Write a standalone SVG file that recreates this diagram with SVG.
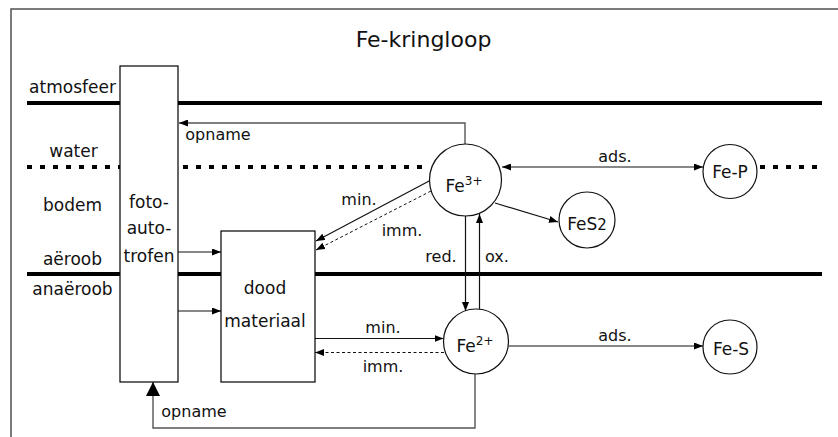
<svg xmlns="http://www.w3.org/2000/svg" width="838" height="437" viewBox="0 0 838 437">
  <style>
    text { font-family: "DejaVu Sans", "Liberation Sans", sans-serif; fill: #111; }
    .title { font-size: 22px; text-anchor: middle; }
    .zone { font-size: 17px; text-anchor: middle; }
    .lbl { font-size: 16px; text-anchor: middle; }
    .node-text { font-size: 17px; text-anchor: middle; }
    .sup { font-size: 12px; }
    .box { fill: #fff; stroke: #000; stroke-width: 1.2; }
    .circ { fill: #fff; stroke: #111; stroke-width: 1.2; }
    .solid { fill: none; stroke: #111; stroke-width: 1.2; }
    .grey { fill: none; stroke: #555; stroke-width: 1.4; }
    .dash { fill: none; stroke: #111; stroke-width: 1; stroke-dasharray: 3 2.5; }
    .bound { fill: none; stroke: #000; stroke-width: 4; }
    .dots { fill: none; stroke: #000; stroke-width: 4; stroke-dasharray: 5 8; }
  </style>
  <defs>
    <marker id="arr" markerUnits="userSpaceOnUse" markerWidth="9" markerHeight="7" refX="9" refY="3.5" orient="auto-start-reverse">
      <path d="M0,0 L9,3.5 L0,7 z" fill="#000"/>
    </marker>
    <marker id="arrBig" markerUnits="userSpaceOnUse" markerWidth="14" markerHeight="14" refX="14" refY="7" orient="auto">
      <path d="M0,0 L14,7 L0,14 z" fill="#000"/>
    </marker>
  </defs>

  <!-- frame -->
  <rect x="11" y="9" width="900" height="500" fill="none" stroke="#444" stroke-width="1.4"/>

  <!-- title -->
  <text class="title" x="423.5" y="47">Fe-kringloop</text>

  <!-- zone boundaries -->
  <g id="zones">
    <line class="bound" x1="27" y1="103" x2="822" y2="103"/>
    <line class="dots" x1="27" y1="167" x2="430" y2="167"/>
    <line class="dots" x1="760" y1="167" x2="820" y2="167"/>
    <line class="bound" x1="27" y1="274" x2="822" y2="274"/>
    <text class="zone" x="72.5" y="93">atmosfeer</text>
    <text class="zone" x="73.5" y="157">water</text>
    <text class="zone" x="72.5" y="211">bodem</text>
    <text class="zone" x="72.5" y="265">aëroob</text>
    <text class="zone" x="72.5" y="295">anaëroob</text>
  </g>

  <!-- connectors -->
  <g id="connectors">
    <path class="grey" d="M465,144 V123 H179" marker-end="url(#arr)"/>
    <text class="lbl" x="218" y="140">opname</text>

    <line class="solid" x1="178" y1="252" x2="221" y2="252" marker-end="url(#arr)"/>
    <line class="solid" x1="178" y1="311" x2="221" y2="311" marker-end="url(#arr)"/>

    <line class="solid" x1="431" y1="180" x2="316" y2="241" marker-end="url(#arr)"/>
    <line class="dash" x1="431" y1="191" x2="316" y2="250" marker-end="url(#arr)"/>
    <text class="lbl" x="359" y="205">min.</text>
    <text class="lbl" x="402" y="236">imm.</text>

    <line class="solid" x1="502" y1="167" x2="703" y2="167" marker-start="url(#arr)" marker-end="url(#arr)"/>
    <text class="lbl" x="615" y="162">ads.</text>

    <line class="solid" x1="495" y1="203" x2="558" y2="222" marker-end="url(#arr)"/>

    <line class="solid" x1="465.5" y1="216" x2="465.5" y2="311" marker-end="url(#arr)"/>
    <line class="solid" x1="479.5" y1="309" x2="479.5" y2="214" marker-end="url(#arr)"/>
    <text class="lbl" x="441" y="262">red.</text>
    <text class="lbl" x="497" y="262">ox.</text>

    <line class="solid" x1="315" y1="338.5" x2="443.5" y2="338.5" marker-end="url(#arr)"/>
    <line class="dash" x1="444" y1="352.5" x2="315" y2="352.5" marker-end="url(#arr)"/>
    <text class="lbl" x="383" y="333">min.</text>
    <text class="lbl" x="383" y="372">imm.</text>

    <line class="solid" x1="508.5" y1="346" x2="703" y2="346" marker-end="url(#arr)"/>
    <text class="lbl" x="615" y="341">ads.</text>

    <path class="grey" d="M475,374 V428 H153 V382" marker-end="url(#arrBig)"/>
    <text class="lbl" x="194" y="417">opname</text>
  </g>

  <!-- nodes -->
  <g id="fotoautotrofen">
    <rect class="box" x="120" y="66" width="58" height="316"/>
    <text class="node-text" x="149" y="208">foto-</text>
    <text class="node-text" x="149" y="234">auto-</text>
    <text class="node-text" x="149" y="262">trofen</text>
  </g>

  <g id="dood-materiaal">
    <rect class="box" x="221" y="231" width="94" height="151"/>
    <text class="node-text" x="265" y="294">dood</text>
    <text class="node-text" x="265" y="327">materiaal</text>
  </g>

  <g id="fe3">
    <circle class="circ" cx="465.5" cy="180" r="36"/>
    <text class="node-text" x="464" y="192">Fe<tspan class="sup" dy="-7">3+</tspan></text>
  </g>

  <g id="fe-p">
    <circle class="circ" cx="730" cy="171.5" r="27"/>
    <text class="node-text" x="730" y="178">Fe-P</text>
  </g>

  <g id="fes2">
    <circle class="circ" cx="587" cy="220" r="28"/>
    <text class="node-text" x="587" y="230">FeS<tspan font-size="15px">2</tspan></text>
  </g>

  <g id="fe2">
    <circle class="circ" cx="476" cy="341.5" r="32.5"/>
    <text class="node-text" x="475" y="352">Fe<tspan class="sup" dy="-7">2+</tspan></text>
  </g>

  <g id="fe-s">
    <circle class="circ" cx="730" cy="347" r="27"/>
    <text class="node-text" x="731" y="355">Fe-S</text>
  </g>
</svg>
